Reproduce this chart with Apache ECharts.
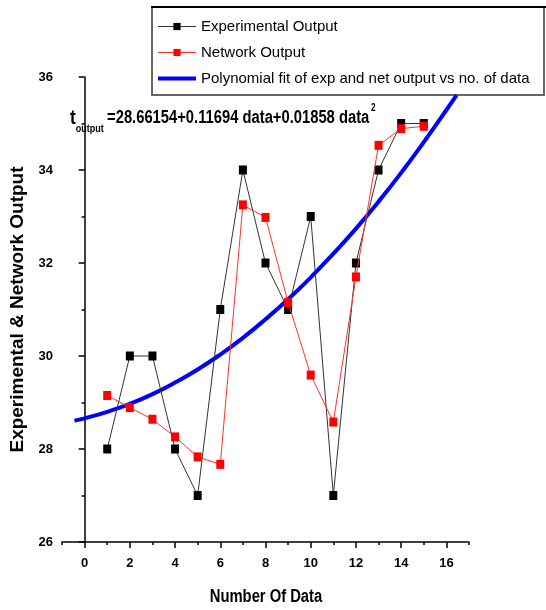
<!DOCTYPE html>
<html>
<head>
<meta charset="utf-8">
<script src="https://cdn.jsdelivr.net/npm/echarts@6/dist/echarts.min.js"></script>
<style>
  html, body { margin: 0; padding: 0; background: #fff; }
  #chart { width: 546px; height: 610px; }
</style>
</head>
<body>
<div id="chart"></div>
<script>
// Sample index (number of data)
const dataIndex = [1, 2, 3, 4, 5, 6, 7, 8, 9, 10, 11, 12, 13, 14, 15];
// Measured output
const experimental = [28, 30, 30, 28, 27, 31, 34, 32, 31, 33, 27, 32, 34, 35, 35];
// Network prediction
const network = [29.15, 28.89, 28.64, 28.26, 27.83, 27.67, 33.25, 32.98, 31.15, 29.59, 28.58, 31.70, 34.53, 34.89, 34.94];
// Second-order fit curve, sampled along the axis
const fitX = [-0.45, 0, 1, 2, 3, 4, 5, 6, 7, 8, 9, 10, 11, 12, 13, 14, 15, 16, 16.45];
const fitY = [28.61, 28.66, 28.80, 28.97, 29.18, 29.43, 29.71, 30.03, 30.39, 30.79, 31.22, 31.69, 32.20, 32.74, 33.32, 33.94, 34.60, 35.29, 35.61];
// Axis tick labels
const xMajorTicks = [0, 2, 4, 6, 8, 10, 12, 14, 16];
const xMinorTicks = [-1, 1, 3, 5, 7, 9, 11, 13, 15, 17];

const SANS = '"Liberation Sans", Arial, sans-serif';
// horizontal squeeze that turns the regular bold face into a narrow one
const NARROW_SCALE = 0.82;

const pairs = (xs, ys) => xs.map((x, i) => [x, ys[i]]);

const chart = echarts.init(document.getElementById('chart'), null, { renderer: 'canvas' });

const axisLine = { show: true, lineStyle: { color: '#000', width: 1.5 } };
const FIT_NAME = 'Polynomial fit of exp and net output vs no. of data';

chart.setOption({
  animation: false,
  backgroundColor: '#fff',
  grid: { left: 62, right: 77, top: 77, bottom: 68, containLabel: false, outerBoundsMode: 'none' },
  xAxis: [
    {
      type: 'value', min: -1, max: 17,
      axisLine: axisLine,
      axisTick: { show: true, inside: false, length: 6, customValues: xMajorTicks, lineStyle: { color: '#000', width: 1.5 } },
      axisLabel: { customValues: xMajorTicks, margin: 15, color: '#000', fontFamily: SANS, fontWeight: 'bold', fontSize: 13 },
      splitLine: { show: false }
    },
    {
      type: 'value', min: -1, max: 17, position: 'bottom', gridIndex: 0,
      axisLine: { show: false },
      axisTick: { show: true, inside: false, length: 3, customValues: xMinorTicks, lineStyle: { color: '#000', width: 1.5 } },
      axisLabel: { show: false },
      splitLine: { show: false }
    }
  ],
  yAxis: {
    type: 'value', min: 26, max: 36, interval: 2,
    axisLine: axisLine,
    axisTick: { show: true, inside: false, length: 6, lineStyle: { color: '#000', width: 1.5 } },
    minorTick: { show: true, splitNumber: 2, length: 3, lineStyle: { color: '#000', width: 1.5 } },
    axisLabel: { margin: 9, color: '#000', fontFamily: SANS, fontWeight: 'bold', fontSize: 13 },
    splitLine: { show: false },
    minorSplitLine: { show: false },
    name: 'Experimental & Network Output', nameLocation: 'middle', nameGap: 29, nameRotate: 90,
    nameTextStyle: { color: '#000', fontFamily: SANS, fontWeight: 'bold', fontSize: 19 }
  },
  legend: {
    orient: 'vertical', left: 151, top: 14,
    itemWidth: 38, itemHeight: 9, itemGap: 11,
    lineStyle: { width: 'inherit' },
    textStyle: { color: '#000', fontFamily: SANS, fontSize: 15 },
    data: [
      'Experimental Output',
      'Network Output',
      { name: FIT_NAME, itemStyle: { opacity: 0 } }
    ]
  },
  graphic: [
    {
      type: 'rect', z: 1,
      shape: { x: 152, y: 7, width: 392, height: 88 },
      style: { fill: 'none', stroke: '#666', lineWidth: 2 }
    },
    {
      type: 'line', z: 2,
      shape: { x1: 151, y1: 7, x2: 546, y2: 7 },
      style: { stroke: '#000', lineWidth: 2 }
    },
    {
      // fitted equation
      type: 'text', x: 70, y: 108, scaleX: NARROW_SCALE, originX: 0, originY: 0, z: 5,
      style: {
        text: '{t|t}{sub|output}{main|=28.66154+0.11694 data+0.01858 data}{sup|2}',
        rich: {
          t: { fontFamily: SANS, fontWeight: 'bold', fontSize: 21, lineHeight: 20, verticalAlign: 'middle', fill: '#000' },
          sub: { fontFamily: SANS, fontWeight: 'bold', fontSize: 11, lineHeight: 12, padding: [22, 0, 0, 0], verticalAlign: 'middle', fill: '#000' },
          main: { fontFamily: SANS, fontWeight: 'bold', fontSize: 18, lineHeight: 20, padding: [0, 0, 0, 4], verticalAlign: 'middle', fill: '#000' },
          sup: { fontFamily: SANS, fontWeight: 'bold', fontSize: 10, lineHeight: 12, padding: [0, 0, 20, 2], verticalAlign: 'middle', fill: '#000' }
        }
      }
    },
    {
      // x-axis title
      type: 'text', x: 266, y: 597, scaleX: NARROW_SCALE, originX: 0, originY: 0, z: 5,
      style: {
        text: 'Number Of Data', align: 'center', verticalAlign: 'middle',
        fontFamily: SANS, fontWeight: 'bold', fontSize: 18, fill: '#000'
      }
    }
  ],
  series: [
    {
      name: FIT_NAME,
      type: 'line', smooth: true, showSymbol: false, symbol: 'none',
      data: pairs(fitX, fitY),
      itemStyle: { color: '#0000ff' },
      lineStyle: { color: '#0000ff', width: 4 },
      z: 2
    },
    {
      name: 'Experimental Output',
      type: 'line', symbol: 'rect', symbolSize: [8, 9],
      data: pairs(dataIndex, experimental),
      itemStyle: { color: '#000' },
      lineStyle: { color: '#333', width: 1 },
      z: 3
    },
    {
      name: 'Network Output',
      type: 'line', symbol: 'rect', symbolSize: [8, 9],
      data: pairs(dataIndex, network),
      itemStyle: { color: '#ff0000' },
      lineStyle: { color: '#ff3030', width: 1 },
      z: 4
    }
  ]
});
</script>
</body>
</html>
